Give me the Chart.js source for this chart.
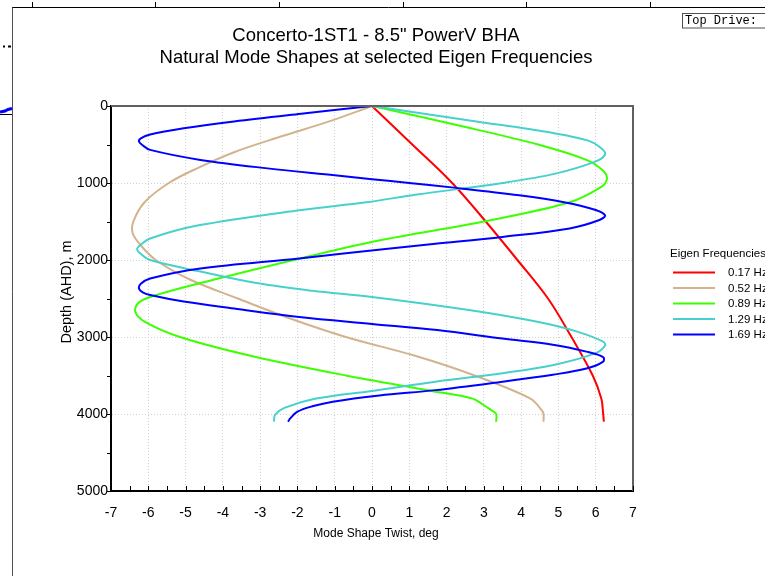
<!DOCTYPE html>
<html>
<head>
<meta charset="utf-8">
<script src="https://cdn.jsdelivr.net/npm/chart.js@4.4.1/dist/chart.umd.min.js"></script>
<style>
  html, body { margin: 0; padding: 0; background: #fff; overflow: hidden; }
  canvas { display: block; }
</style>
</head>
<body>
<canvas id="myChart" width="765" height="576"></canvas>
<script>
const ctx = document.getElementById('myChart').getContext('2d');

// Eigen frequencies (legend labels) and colours
const frequencies = ['0.17 Hz', '0.52 Hz', '0.89 Hz', '1.29 Hz', '1.69 Hz'];
const colours = ['#ff0000', '#d2b48c', '#3cff00', '#48d1cc', '#0000ff'];

// axis ticks
const twistTicks = [-7, -6, -5, -4, -3, -2, -1, 0, 1, 2, 3, 4, 5, 6, 7];
const depthTicks = [0, 1000, 2000, 3000, 4000, 5000];

// 0.17 Hz
const depth017 = [0, 500, 1000, 1500, 2000, 2500, 3000, 3500, 3800, 4000, 4100];
const twist017 = [0, 1.08, 2.15, 3.05, 3.9, 4.72, 5.35, 5.92, 6.15, 6.2, 6.22];

// 0.52 Hz
const depth052 = [0, 200, 400, 600, 800, 1000, 1250, 1500, 1650, 1800, 2000, 2250, 2500, 2750, 3000, 3250, 3500, 3800, 3950, 4000, 4100];
const twist052 = [0, -1.15, -2.47, -3.7, -4.65, -5.45, -6.1, -6.4, -6.42, -6.22, -5.8, -4.9, -3.6, -2.25, -0.7, 1.2, 2.75, 4.25, 4.55, 4.6, 4.6];

// 0.89 Hz
const depth089 = [0, 250, 500, 700, 850, 950, 1050, 1250, 1500, 1750, 2000, 2250, 2450, 2550, 2670, 2800, 3000, 3250, 3500, 3700, 3800, 3870, 3950, 4000, 4100];
const twist089 = [0, 2.3, 4.45, 5.75, 6.22, 6.3, 6.15, 5.3, 3.0, 0.15, -2.1, -4.2, -5.75, -6.25, -6.35, -6.1, -5.15, -3.2, -0.7, 1.6, 2.7, 2.95, 3.2, 3.33, 3.33];

// 1.29 Hz
const depth129 = [0, 200, 350, 450, 550, 630, 720, 875, 1000, 1150, 1250, 1350, 1550, 1720, 1800, 1860, 1920, 2000, 2150, 2300, 2400, 2480, 2650, 2800, 2930, 3060, 3110, 3210, 3360, 3470, 3580, 3700, 3800, 3920, 4010, 4100];
const twist129 = [0, 2.8, 4.85, 5.8, 6.15, 6.25, 6.0, 4.95, 3.5, 1.2, -0.15, -1.9, -4.65, -5.95, -6.2, -6.3, -6.2, -5.95, -4.6, -3.1, -1.6, 0, 2.6, 4.4, 5.5, 6.2, 6.25, 6.0, 4.9, 3.5, 1.7, 0, -1.5, -2.35, -2.6, -2.63];

// 1.69 Hz
const depth169 = [0, 100, 200, 290, 370, 420, 460, 510, 570, 700, 810, 900, 950, 1000, 1060, 1160, 1250, 1350, 1420, 1480, 1590, 1700, 1790, 1860, 1980, 2110, 2240, 2310, 2370, 2420, 2455, 2540, 2630, 2740, 2830, 2910, 3020, 3100, 3190, 3260, 3320, 3410, 3490, 3580, 3690, 3760, 3840, 3900, 3970, 4060, 4100];
const twist169 = [0, -1.9, -3.7, -5.05, -5.95, -6.2, -6.25, -6.15, -5.95, -4.6, -2.8, -1.0, 0, 1.0, 2.2, 3.95, 5.15, 6.0, 6.25, 6.1, 5.3, 3.5, 1.7, 0.3, -1.95, -4.6, -5.95, -6.2, -6.25, -6.15, -5.95, -5.05, -3.7, -1.95, 0, 1.75, 3.5, 4.85, 5.75, 6.2, 6.2, 5.75, 4.85, 3.5, 1.7, 0.2, -1.05, -1.6, -2.0, -2.2, -2.25];

const depths = [depth017, depth052, depth089, depth129, depth169];
const twists = [twist017, twist052, twist089, twist129, twist169];

const FONT = '"Liberation Sans", Arial, sans-serif';
Chart.defaults.font.family = FONT;
Chart.defaults.color = '#000';

const datasets = frequencies.map((f, i) => ({
    label: f,
    data: depths[i].map((d, k) => ({ x: twists[i][k], y: d })),
    showLine: true,
    borderColor: colours[i],
    backgroundColor: colours[i],
    borderWidth: 2,
    pointRadius: 0,
    tension: 0.35,
    order: frequencies.length - i
}));

// frame, minor ticks, titles, legend and the bits of window around the plot
const decorations = {
    id: 'decorations',
    afterDraw(chart) {
        const c = chart.ctx;
        const a = chart.chartArea;
        const xs = chart.scales.x, ys = chart.scales.y;
        c.save();

        // top / right frame of plot
        c.strokeStyle = '#606060';
        c.lineWidth = 2;
        c.beginPath();
        c.moveTo(a.left, a.top);
        c.lineTo(a.right, a.top);
        c.lineTo(a.right, a.bottom);
        c.stroke();

        // tick marks
        c.strokeStyle = '#000';
        c.lineWidth = 1;
        c.beginPath();
        for (let v = -7; v <= 7; v += 0.5) {
            const px = Math.round(xs.getPixelForValue(v)) + 0.5;
            c.moveTo(px, a.bottom);
            c.lineTo(px, a.bottom - 5);
        }
        for (let d = 0; d <= 5000; d += 500) {
            const py = Math.round(ys.getPixelForValue(d)) + 0.5;
            c.moveTo(a.left - 4, py);
            c.lineTo(a.left, py);
        }
        c.stroke();

        // titles
        c.fillStyle = '#000';
        c.textAlign = 'center';
        c.textBaseline = 'middle';
        c.font = '18.5px ' + FONT;
        c.fillText('Concerto-1ST1 - 8.5" PowerV BHA', 376, 36);
        c.fillText('Natural Mode Shapes at selected Eigen Frequencies', 376, 58);
        c.font = '12px ' + FONT;
        c.fillText('Mode Shape Twist, deg', 376, 534);
        c.save();
        c.translate(67, 292);
        c.rotate(-Math.PI / 2);
        c.font = '14.5px ' + FONT;
        c.fillText('Depth (AHD), m', 0, 0);
        c.restore();

        // legend
        c.textAlign = 'left';
        c.font = '11.5px ' + FONT;
        c.fillText('Eigen Frequencies', 670, 254);
        const rows = [272.5, 288, 303.5, 319, 334.5];
        chart.data.datasets.forEach((ds, i) => {
            c.strokeStyle = ds.borderColor;
            c.lineWidth = 2;
            c.beginPath();
            c.moveTo(673, rows[i]);
            c.lineTo(715, rows[i]);
            c.stroke();
            c.fillText(ds.label, 728, rows[i] + 0.5);
        });

        // surrounding window pieces
        c.strokeStyle = '#000';
        c.lineWidth = 1;
        c.beginPath();
        c.moveTo(12, 7.5);
        c.lineTo(765, 7.5);
        [32, 155, 279, 403, 526, 650].forEach(px => {
            c.moveTo(px + 0.5, 2);
            c.lineTo(px + 0.5, 7.5);
        });
        c.stroke();
        c.strokeStyle = '#505050';
        c.beginPath();
        c.moveTo(12.5, 7.5);
        c.lineTo(12.5, 576);
        c.stroke();
        c.strokeStyle = '#000';
        c.lineWidth = 2;
        c.beginPath();
        c.moveTo(3, 46.5); c.lineTo(5, 46.5);
        c.moveTo(8, 46.5); c.lineTo(11, 46.5);
        c.stroke();
        c.lineWidth = 1;
        c.beginPath();
        c.moveTo(0, 114.5); c.lineTo(12, 114.5);
        c.stroke();
        c.strokeStyle = '#0000ff';
        c.lineWidth = 3;
        c.beginPath();
        c.moveTo(0, 112); c.lineTo(5, 111); c.lineTo(8, 109.5); c.lineTo(12, 108.5);
        c.stroke();

        // Top Drive box
        c.strokeStyle = '#505050';
        c.lineWidth = 1;
        c.fillStyle = '#fff';
        c.fillRect(683, 13, 90, 15);
        c.strokeRect(682.5, 13.5, 90, 14.5);
        c.fillStyle = '#000';
        c.font = '12px "Liberation Mono", "Courier New", monospace';
        c.textBaseline = 'middle';
        c.fillText('Top Drive:', 685, 21);
        c.restore();
    }
};

const myChart = new Chart(ctx, {
    type: 'scatter',
    data: { datasets: datasets },
    options: {
        responsive: false,
        animation: false,
        layout: { padding: { top: 106, right: 132, left: 0, bottom: 0 } },
        scales: {
            x: {
                type: 'linear',
                min: twistTicks[0],
                max: twistTicks[twistTicks.length - 1],
                afterBuildTicks: (s) => { s.ticks = twistTicks.map(v => ({ value: v })); },
                afterFit: (s) => { s.height = 85; },
                ticks: { font: { size: 14 }, color: '#000', padding: 14, maxRotation: 0, autoSkip: false,
                         callback: (v) => String(v) },
                grid: { color: '#d0d0d0', lineWidth: 1, drawTicks: false },
                border: { color: '#000', width: 2, dash: [1, 2] }
            },
            y: {
                type: 'linear',
                reverse: true,
                min: depthTicks[0],
                max: depthTicks[depthTicks.length - 1],
                afterBuildTicks: (s) => { s.ticks = depthTicks.map(v => ({ value: v })); },
                afterFit: (s) => { s.width = 111; },
                ticks: { font: { size: 14 }, color: '#000', padding: 3, autoSkip: false,
                         callback: (v) => String(v) },
                grid: { color: '#d0d0d0', lineWidth: 1, drawTicks: false },
                border: { color: '#000', width: 2, dash: [1, 2] }
            }
        },
        plugins: {
            legend: { display: false },
            title: { display: false },
            tooltip: { enabled: false }
        }
    },
    plugins: [decorations]
});
</script>
</body>
</html>
